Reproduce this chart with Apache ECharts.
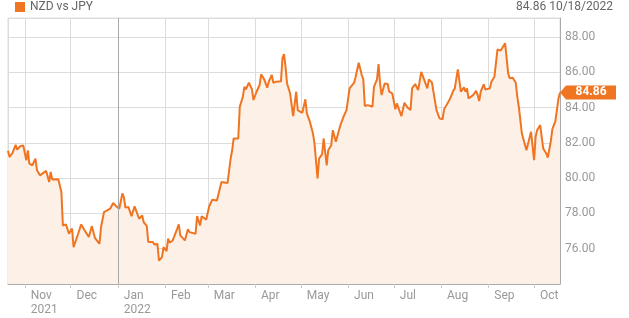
<!DOCTYPE html>
<html>
<head>
<meta charset="utf-8">
<script src="https://cdn.jsdelivr.net/npm/echarts@6/dist/echarts.min.js"></script>
<style>
html,body{margin:0;padding:0;background:#fff;}
#chart{width:629px;height:318px;}
</style>
</head>
<body>
<div id="chart"></div>
<script>
const seriesName = 'NZD vs JPY';
const dates = [
'2021-10-21','2021-10-22','2021-10-24','2021-10-26','2021-10-27','2021-10-29','2021-10-31','2021-11-01','2021-11-02','2021-11-03',
'2021-11-04','2021-11-06','2021-11-08','2021-11-09','2021-11-11','2021-11-12','2021-11-15','2021-11-17','2021-11-18','2021-11-19',
'2021-11-23','2021-11-25','2021-11-26','2021-11-28','2021-11-30','2021-12-02','2021-12-03','2021-12-06','2021-12-08','2021-12-10',
'2021-12-13','2021-12-14','2021-12-15','2021-12-17','2021-12-20','2021-12-21','2021-12-23','2021-12-25','2021-12-27','2021-12-29',
'2021-12-31','2022-01-02','2022-01-04','2022-01-05','2022-01-06','2022-01-08','2022-01-10','2022-01-12','2022-01-13','2022-01-15',
'2022-01-17','2022-01-18','2022-01-20','2022-01-21','2022-01-24','2022-01-25','2022-01-27','2022-01-28','2022-01-30','2022-01-31',
'2022-02-02','2022-02-03','2022-02-04','2022-02-06','2022-02-09','2022-02-10','2022-02-11','2022-02-14','2022-02-16','2022-02-17',
'2022-02-18','2022-02-21','2022-02-22','2022-02-24','2022-02-25','2022-02-28','2022-03-02','2022-03-04','2022-03-07','2022-03-10',
'2022-03-11','2022-03-14','2022-03-16','2022-03-17','2022-03-18','2022-03-21','2022-03-22','2022-03-24','2022-03-25','2022-03-26',
'2022-03-28','2022-03-30','2022-03-31','2022-04-02','2022-04-04','2022-04-05','2022-04-07','2022-04-09','2022-04-10','2022-04-12',
'2022-04-13','2022-04-15','2022-04-18','2022-04-19','2022-04-20','2022-04-21','2022-04-22','2022-04-24','2022-04-26','2022-04-28',
'2022-04-29','2022-05-02','2022-05-04','2022-05-05','2022-05-07','2022-05-09','2022-05-10','2022-05-12','2022-05-13','2022-05-15',
'2022-05-16','2022-05-18','2022-05-19','2022-05-21','2022-05-22','2022-05-24','2022-05-25','2022-05-26','2022-05-27','2022-05-29',
'2022-05-31','2022-06-02','2022-06-03','2022-06-05','2022-06-06','2022-06-08','2022-06-10','2022-06-11','2022-06-12','2022-06-14',
'2022-06-17','2022-06-18','2022-06-20','2022-06-21','2022-06-22','2022-06-23','2022-06-25','2022-06-27','2022-06-28','2022-06-30',
'2022-07-02','2022-07-03','2022-07-06','2022-07-08','2022-07-10','2022-07-12','2022-07-13','2022-07-15','2022-07-17','2022-07-19',
'2022-07-20','2022-07-23','2022-07-24','2022-07-26','2022-07-27','2022-07-29','2022-07-31','2022-08-02','2022-08-03','2022-08-04',
'2022-08-07','2022-08-09','2022-08-10','2022-08-12','2022-08-14','2022-08-16','2022-08-17','2022-08-18','2022-08-19','2022-08-22',
'2022-08-24','2022-08-25','2022-08-26','2022-08-27','2022-08-29','2022-08-30','2022-09-02','2022-09-03','2022-09-05','2022-09-07',
'2022-09-09','2022-09-10','2022-09-12','2022-09-14','2022-09-15','2022-09-17','2022-09-19','2022-09-20','2022-09-21','2022-09-23',
'2022-09-26','2022-09-27','2022-09-29','2022-09-30','2022-10-01','2022-10-02','2022-10-03','2022-10-04','2022-10-05','2022-10-06',
'2022-10-07','2022-10-09','2022-10-10','2022-10-12','2022-10-13','2022-10-14','2022-10-15','2022-10-17','2022-10-18'
];
const rates = [
81.55,81.20,81.43,81.89,81.62,81.81,81.85,81.89,81.02,81.58,
80.83,80.73,81.11,80.45,80.16,80.26,80.41,79.78,80.35,79.92,
79.94,79.22,77.32,77.38,76.85,77.14,76.09,76.85,77.38,77.08,
76.66,76.70,77.28,76.62,76.28,77.23,78.08,78.18,78.27,78.59,
78.40,78.27,79.13,78.93,78.33,78.36,77.84,78.40,78.40,77.70,
77.89,77.50,77.30,76.38,76.38,76.24,76.28,75.33,75.52,76.09,
75.86,76.57,76.34,76.47,77.14,77.38,76.76,76.47,77.10,76.94,
77.04,76.85,77.85,77.32,77.84,77.65,78.42,78.78,78.74,79.78,
79.88,79.73,81.11,81.58,82.25,82.25,84.05,84.61,85.18,85.03,
85.41,85.03,84.43,84.90,85.28,85.89,85.60,85.13,85.47,85.85,
85.41,85.47,85.49,86.80,87.03,86.32,85.37,84.81,83.52,84.90,
83.86,83.70,84.47,83.67,83.19,82.53,81.97,79.98,81.11,81.36,
82.25,80.73,81.58,81.87,82.72,82.06,82.38,82.38,83.01,83.48,
83.86,85.09,85.15,85.41,85.75,86.55,85.85,85.60,84.09,84.14,
84.05,85.18,85.60,86.47,85.37,84.71,85.37,85.34,84.90,84.81,
83.90,84.24,83.52,84.27,84.01,83.86,85.09,85.34,84.99,86.03,
85.94,85.09,85.60,85.43,85.50,83.86,83.39,83.33,83.90,83.80,
84.52,84.95,85.09,86.17,84.90,85.15,84.90,85.09,84.52,84.71,
84.95,84.71,84.37,84.90,85.32,85.03,85.09,85.47,85.75,87.30,
87.23,87.36,87.65,85.94,85.66,85.69,85.41,84.61,84.05,82.53,
81.58,81.58,82.63,82.72,81.02,82.34,82.72,82.63,83.01,82.34,
81.68,81.40,81.17,82.11,82.78,82.68,83.25,84.52,84.86
];
const xTickMonths = ['2021-11','2021-12','2022-01','2022-02','2022-03','2022-04','2022-05','2022-06','2022-07','2022-08','2022-09','2022-10'];
const xTickLabels = ['Nov\n2021','Dec','Jan\n2022','Feb','Mar','Apr','May','Jun','Jul','Aug','Sep','Oct'];
const yearBoundary = '2022-01-01';

const ORANGE = '#f07522';
const FONT = 'Roboto, "Noto Sans", sans-serif';
const lastIdx = rates.length - 1;
const lastVal = rates[lastIdx];
const lastDate = dates[lastIdx];
const lastDateTxt = (function(){ const p = lastDate.split('-'); return p[1] + '/' + p[2] + '/' + p[0]; })();

const chart = echarts.init(document.getElementById('chart'), null, {renderer: 'canvas'});
const data = dates.map((d, i) => [d, rates[i]]);

chart.setOption({
  animation: false,
  grid: {left: 8, right: 69, top: 18, bottom: 34, show: true, borderColor: '#dcdcdc', borderWidth: 1},
  graphic: [
    {type: 'rect', left: 15, top: 2, shape: {width: 10, height: 10}, style: {fill: ORANGE}},
    {type: 'text', left: 30, top: 1, style: {text: seriesName, fill: '#666', font: '12px ' + FONT}},
    {type: 'text', right: 16, top: 1, style: {text: lastVal.toFixed(2) + ' ' + lastDateTxt, fill: '#666', font: '12px ' + FONT}}
  ],
  xAxis: {
    type: 'time',
    min: dates[0],
    max: lastDate,
    splitNumber: 12,
    minInterval: 28 * 86400000,
    axisLine: {show: true, lineStyle: {color: '#aaa'}},
    axisTick: {show: true, length: 4, lineStyle: {color: '#ccc'}},
    splitLine: {show: true, lineStyle: {color: '#dcdcdc'}},
    axisLabel: {
      showMinLabel: false, showMaxLabel: false,
      color: '#999', fontSize: 12, fontFamily: FONT, align: 'left', margin: 5,
      lineHeight: 14, padding: [0, 0, 0, 6],
      formatter: function (v) {
        const d = new Date(v);
        const key = d.getFullYear() + '-' + String(d.getMonth() + 1).padStart(2, '0');
        const i = xTickMonths.indexOf(key);
        return i >= 0 ? xTickLabels[i] : '';
      }
    }
  },
  yAxis: {
    type: 'value',
    position: 'right',
    min: 74, max: 89.08, interval: 2,
    axisLine: {show: true, lineStyle: {color: '#aaa'}},
    axisTick: {show: false},
    splitLine: {show: true, lineStyle: {color: '#dcdcdc'}},
    axisLabel: {
      showMinLabel: false, showMaxLabel: false,
      color: '#999', fontSize: 12, fontFamily: FONT, margin: 5,
      formatter: v => v.toFixed(2)
    }
  },
  series: [{
    type: 'line',
    name: seriesName,
    data: data,
    showSymbol: false,
    symbol: 'none',
    lineStyle: {color: ORANGE, width: 2},
    itemStyle: {color: ORANGE},
    areaStyle: {color: '#fcf0e7', opacity: 1},
    markLine: {
      silent: true, symbol: 'none',
      label: {show: false},
      lineStyle: {color: '#a8a8a8', type: 'solid', width: 1},
      data: [{xAxis: yearBoundary}]
    },
    markPoint: {
      silent: true,
      symbol: 'path://M0,7L6,0L56,0L56,14L6,14Z',
      symbolSize: [56, 14],
      symbolOffset: ['50%', 0],
      itemStyle: {color: ORANGE},
      label: {show: true, position: 'inside', offset: [3, 0], color: '#fff', fontWeight: 'bold', fontSize: 12, fontFamily: FONT, formatter: () => lastVal.toFixed(2)},
      data: [{coord: [lastDate, lastVal]}]
    }
  }]
});
</script>
</body>
</html>
